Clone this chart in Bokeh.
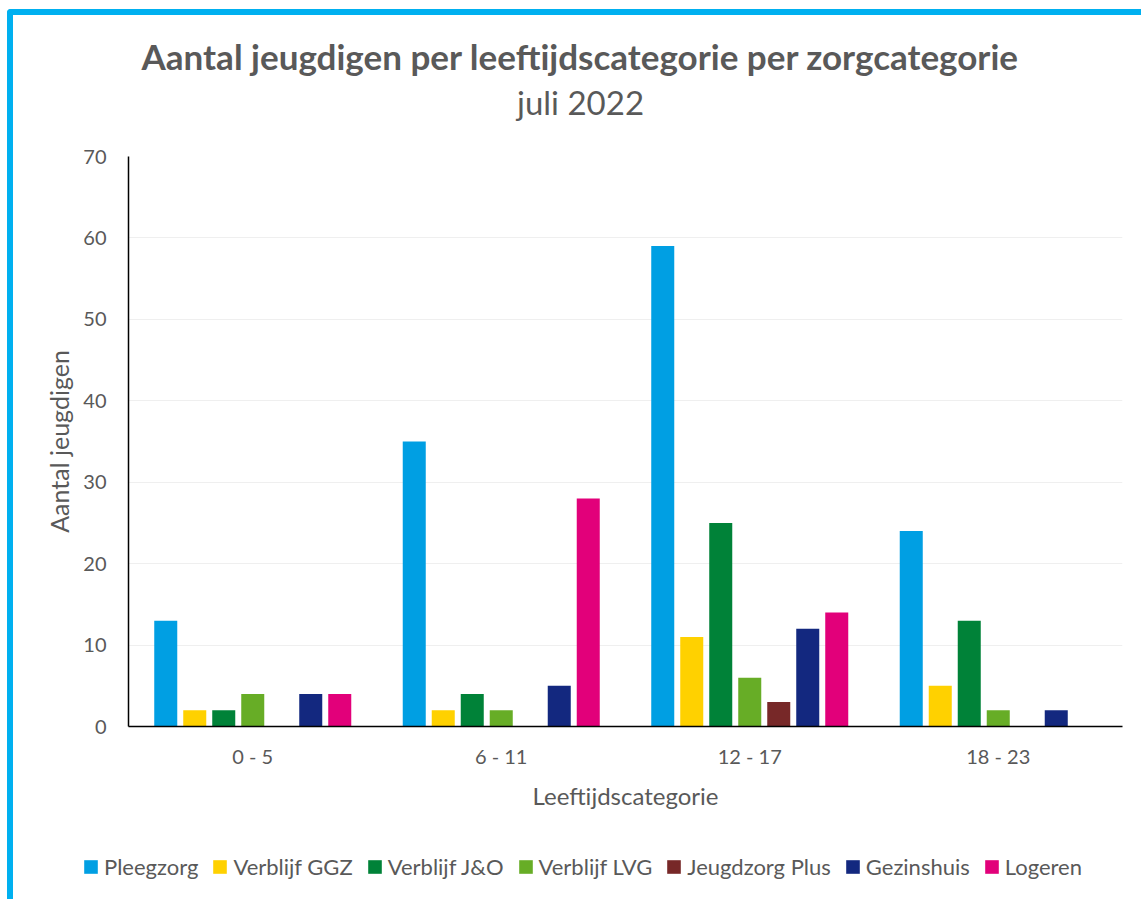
from bokeh.plotting import figure
from bokeh.layouts import column
from bokeh.models import ColumnDataSource, FactorRange, Legend, LegendItem, Label
from bokeh.transform import dodge
from bokeh.embed import file_html
from bokeh.resources import INLINE

categories = ["0 - 5", "6 - 11", "12 - 17", "18 - 23"]
series_names = ["Pleegzorg", "Verblijf GGZ", "Verblijf J&O", "Verblijf LVG",
                "Jeugdzorg Plus", "Gezinshuis", "Logeren"]
pleegzorg = [13, 35, 59, 24]
verblijf_ggz = [2, 2, 11, 5]
verblijf_jo = [2, 4, 25, 13]
verblijf_lvg = [4, 2, 6, 2]
jeugdzorg_plus = [0, 0, 3, 0]
gezinshuis = [4, 5, 12, 2]
logeren = [4, 28, 14, 0]
colors = ["#009FE3", "#FFD100", "#008238", "#67AD26", "#772828", "#13287F", "#E2007A"]
y_ticks = [0, 10, 20, 30, 40, 50, 60, 70]

title_text = "Aantal jeugdigen per leeftijdscategorie per zorgcategorie"
subtitle_text = "juli 2022"
x_label_text = "Leeftijdscategorie"
y_label_text = "Aantal jeugdigen"

series_values = [pleegzorg, verblijf_ggz, verblijf_jo, verblijf_lvg,
                 jeugdzorg_plus, gezinshuis, logeren]
keys = ["s%d" % i for i in range(len(series_names))]
data = {"cat": categories}
for k, v in zip(keys, series_values):
    data[k] = v
source = ColumnDataSource(data)

FONT = "Lato"
TXT = "#595959"
W = 1128


def blank(height):
    f = figure(width=W, height=height, output_backend="svg", toolbar_location=None,
               x_axis_type=None, y_axis_type=None, min_border=0,
               x_range=(0, 1), y_range=(0, 1), frame_align=False)
    f.outline_line_color = None
    f.grid.visible = False
    f.background_fill_color = "white"
    f.border_fill_color = "white"
    return f


# header with title and subtitle
head = blank(120)
head.add_layout(Label(x=567, y=80, x_units="screen", y_units="screen", text=title_text,
                      text_font=FONT, text_font_style="bold", text_font_size="35px",
                      text_color=TXT, text_align="center", text_baseline="middle"))
head.add_layout(Label(x=567, y=34, x_units="screen", y_units="screen", text=subtitle_text,
                      text_font=FONT, text_font_size="33px",
                      text_color=TXT, text_align="center", text_baseline="middle"))

# main chart
p = figure(x_range=FactorRange(*categories, range_padding=0), y_range=(0, 70),
           width=W, height=700, output_backend="svg", toolbar_location=None,
           min_border_left=115, min_border_right=19, min_border_top=21,
           min_border_bottom=109)
p.outline_line_color = None
p.background_fill_color = "white"
p.border_fill_color = "white"

pitch = 0.1167
bw = 0.0926
for i, (k, c) in enumerate(zip(keys, colors)):
    p.vbar(x=dodge("cat", (i - 3) * pitch, range=p.x_range), top=k, width=bw,
           source=source, fill_color=c, line_color=None)

p.xgrid.grid_line_color = None
p.ygrid.grid_line_color = "#EFEFEF"
p.ygrid.grid_line_width = 1
p.yaxis.ticker = y_ticks
for ax in (p.xaxis, p.yaxis):
    ax.axis_line_color = "black"
    ax.axis_line_width = 1.5
    ax.major_tick_line_color = None
    ax.minor_tick_line_color = None
    ax.major_tick_out = 0
    ax.major_tick_in = 0
    ax.major_label_text_font = FONT
    ax.major_label_text_color = TXT
    ax.major_label_text_font_size = "20px"
    ax.axis_label_text_font = FONT
    ax.axis_label_text_color = TXT
    ax.axis_label_text_font_style = "normal"
p.yaxis.major_label_standoff = 22
p.xaxis.major_label_standoff = 17
p.yaxis.axis_label = y_label_text
p.xaxis.axis_label = x_label_text
p.yaxis.axis_label_text_font_size = "25px"
p.xaxis.axis_label_text_font_size = "24px"
p.yaxis.axis_label_standoff = 6
p.xaxis.axis_label_standoff = 10

# legend strip (legend swatches only; proxy renderers lie outside the visible range)
lf = blank(64)
items = []
for name, c in zip(series_names, colors):
    r = lf.vbar(x=[-10], top=[0], width=0.1, fill_color=c, line_color=None)
    items.append(LegendItem(label=name, renderers=[r]))
legend = Legend(items=items, orientation="horizontal", location=(69, 19),
                glyph_width=17, glyph_height=17, label_standoff=5, spacing=13,
                padding=0, margin=0, border_line_color=None, background_fill_alpha=0,
                label_text_font=FONT, label_text_color=TXT, label_text_font_size="22px")
lf.add_layout(legend, "center")

layout = column(head, p, lf, spacing=0)
layout.styles = {"border-top": "6px solid #00B0F0", "border-left": "6px solid #00B0F0",
                 "border-top-left-radius": "4px", "margin-left": "7px", "margin-top": "9px"}

open("out.html", "w").write(file_html(layout, INLINE))
